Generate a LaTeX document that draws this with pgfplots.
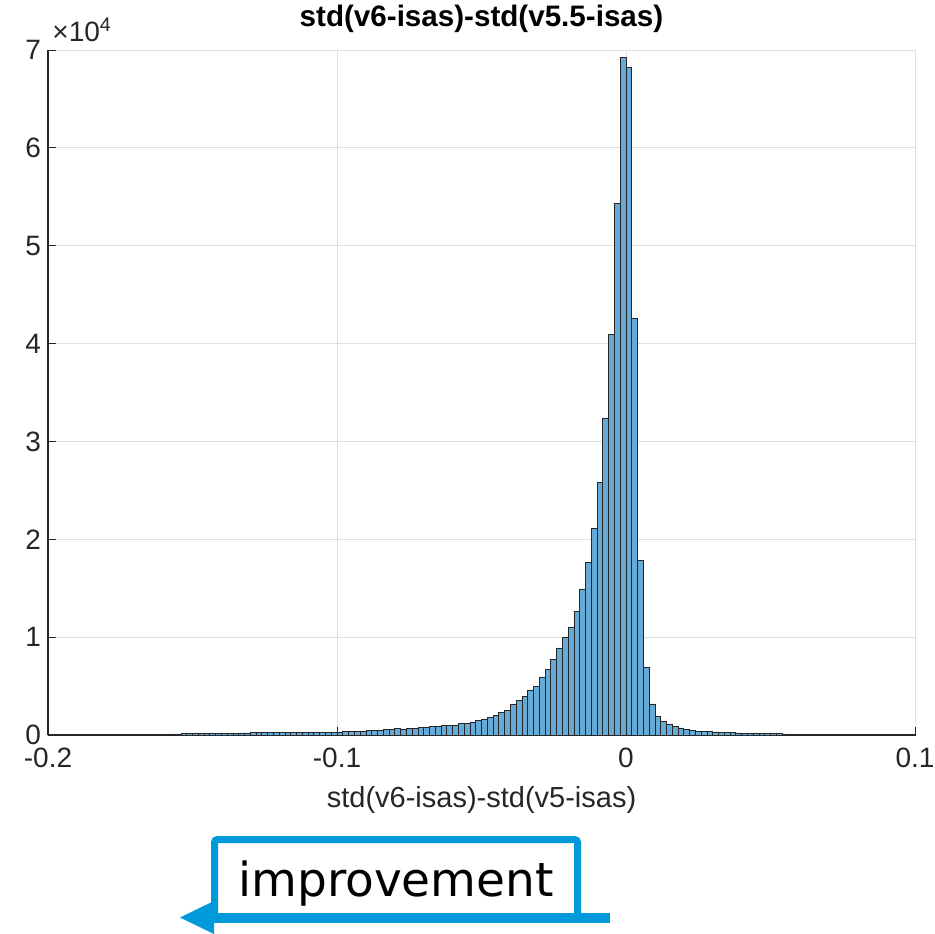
\documentclass[border=0pt]{standalone}
\usepackage{fontspec}
\setmainfont{Liberation Sans}
\newfontfamily\dejavu{DejaVu Sans}
\usepackage{pgfplots}
\pgfplotsset{compat=1.18}

\definecolor{barfill}{RGB}{102,170,215}
\definecolor{axgray}{RGB}{38,38,38}
\definecolor{gridgray}{RGB}{223,223,223}
\definecolor{annblue}{RGB}{0,153,219}

\begin{document}
\begin{tikzpicture}
\begin{axis}[
    name=ax,
    scale only axis,
    width=433.5pt, height=342.5pt,
    xmin=-0.2, xmax=0.1,
    ymin=0, ymax=70000,
    scaled y ticks=false,
    xtick={-0.2,-0.1,0,0.1},
    xticklabels={-0.2,-0.1,0,0.1},
    ytick={0,10000,20000,30000,40000,50000,60000,70000},
    yticklabels={0,1,2,3,4,5,6,7},
    axis x line*=bottom,
    axis y line*=left,
    tick align=inside,
    major tick length=4pt,
    axis line style={axgray, line width=0.6pt},
    every tick/.style={axgray, line width=0.5pt},
    grid=major,
    major grid style={gridgray, line width=0.5pt},
    ticklabel style={font=\fontsize{14}{16}\selectfont, text=axgray},
    xticklabel style={yshift=-3pt},
    xlabel={std(v6-isas)-std(v5-isas)},
    xlabel style={font=\fontsize{14.5}{17}\selectfont, text=axgray,
        at={(axis description cs:0.5,0)}, anchor=center, yshift=-32.5pt},
    title={\bfseries std(v6-isas)-std(v5.5-isas)},
    title style={font=\fontsize{14.8}{17}\selectfont,
        at={(axis description cs:0.5,1)}, anchor=center, yshift=9.5pt},
    clip=false,
]
\addplot[ybar interval, fill=barfill, draw=black!85, line width=0.4pt] coordinates {
(-0.200,20) (-0.198,22) (-0.196,24) (-0.194,26) (-0.192,28)
(-0.190,30) (-0.188,33) (-0.186,36) (-0.184,39) (-0.182,42)
(-0.180,45) (-0.178,49) (-0.176,53) (-0.174,57) (-0.172,62)
(-0.170,67) (-0.168,72) (-0.166,78) (-0.164,84) (-0.162,90)
(-0.160,97) (-0.158,104) (-0.156,112) (-0.154,120) (-0.152,128)
(-0.150,137) (-0.148,146) (-0.146,155) (-0.144,164) (-0.142,173)
(-0.140,182) (-0.138,191) (-0.136,199) (-0.134,207) (-0.132,215)
(-0.130,222) (-0.128,229) (-0.126,236) (-0.124,243) (-0.122,250)
(-0.120,257) (-0.118,263) (-0.116,269) (-0.114,275) (-0.112,281)
(-0.110,287) (-0.108,292) (-0.106,297) (-0.104,302) (-0.102,306)
(-0.100,310) (-0.098,340) (-0.096,370) (-0.094,400) (-0.092,410)
(-0.090,440) (-0.088,480) (-0.086,510) (-0.084,540) (-0.082,610)
(-0.080,660) (-0.078,610) (-0.076,650) (-0.074,680) (-0.072,750)
(-0.070,820) (-0.068,890) (-0.066,920) (-0.064,950) (-0.062,990)
(-0.060,1000) (-0.058,1160) (-0.056,1200) (-0.054,1330) (-0.052,1460)
(-0.050,1600) (-0.048,1800) (-0.046,2000) (-0.044,2300) (-0.042,2550)
(-0.040,3100) (-0.038,3500) (-0.036,3900) (-0.034,4600) (-0.032,5000)
(-0.030,5900) (-0.028,6700) (-0.026,7700) (-0.024,8900) (-0.022,10000)
(-0.020,11000) (-0.018,12600) (-0.016,14900) (-0.014,17600) (-0.012,21100)
(-0.010,25800) (-0.008,32400) (-0.006,40900) (-0.004,54300) (-0.002,69200)
(0.000,68200) (0.002,42600) (0.004,17800) (0.006,6900) (0.008,3170)
(0.010,1940) (0.012,1360) (0.014,1060) (0.016,850) (0.018,720)
(0.020,580) (0.022,480) (0.024,410) (0.026,370) (0.028,340)
(0.030,310) (0.032,280) (0.034,255) (0.036,232) (0.038,212)
(0.040,194) (0.042,178) (0.044,163) (0.046,150) (0.048,138)
(0.050,127) (0.052,117) (0.054,108) (0.056,100) (0.058,92)
(0.060,85) (0.062,79) (0.064,73) (0.066,67) (0.068,62)
(0.070,57) (0.072,53) (0.074,49) (0.076,45) (0.078,42)
(0.080,39) (0.082,36) (0.084,33) (0.086,31) (0.088,29)
(0.090,27) (0.092,25) (0.094,23) (0.096,21) (0.098,20)
(0.100,0)
};
\end{axis}
% annotation, in pixel units of the reference, origin at the axis corner
\begin{scope}[shift={(ax.south west)}, x=0.5pt, y=-0.5pt]
  \node[anchor=base west, inner sep=0pt, text=axgray,
        font=\fontsize{14}{16}\selectfont] at (4,-693) {×10\textsuperscript{4}};
  \draw[annblue, line width=3.5pt, rounded corners=1.5pt]
    (166.5,182) -- (166.5,104.5) -- (529.5,104.5) -- (529.5,182);
  \draw[annblue, line width=5pt] (562,182.5) -- (160,182.5);
  \fill[annblue] (132,182.5) -- (166,166) -- (166,199) -- cycle;
  \node[anchor=base, inner sep=0pt, font=\dejavu\fontsize{23.5}{28}\selectfont]
    at (348,161) {improvement};
  \pgfresetboundingbox
  \path[use as bounding box] (-48,-735) rectangle (887,198);
\end{scope}
\end{tikzpicture}
\end{document}
